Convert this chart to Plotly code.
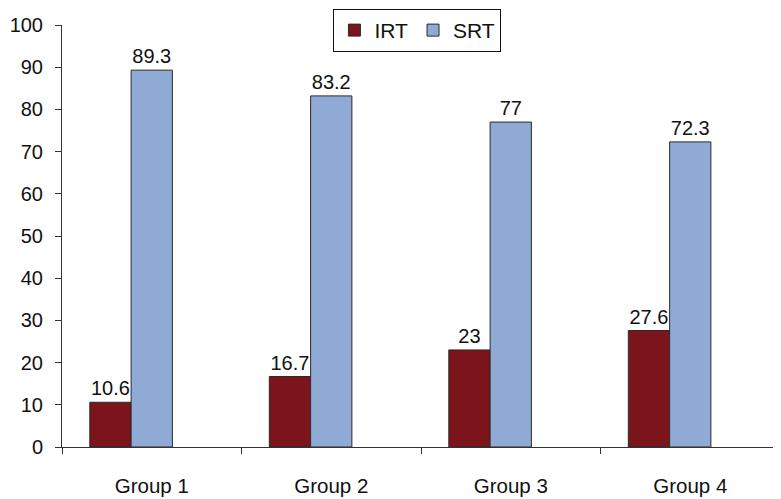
import plotly.graph_objects as go

categories = ["Group 1", "Group 2", "Group 3", "Group 4"]
irt = [10.6, 16.7, 23, 27.6]
srt = [89.3, 83.2, 77, 72.3]
y_ticks = [0, 10, 20, 30, 40, 50, 60, 70, 80, 90, 100]

FONT = "Liberation Sans, Arial, sans-serif"
fig = go.Figure()
fig.add_trace(go.Bar(
    x=categories, y=irt, name="IRT",
    marker=dict(color="#7B151B", line=dict(color="#2a2a2a", width=1)),
    width=0.23, offset=-0.345,
    text=[f"{v:g}" for v in irt], textposition="outside", cliponaxis=False,
    textfont=dict(size=20, color="#111", family=FONT),
))
fig.add_trace(go.Bar(
    x=categories, y=srt, name="SRT",
    marker=dict(color="#8FAAD4", line=dict(color="#2a2a2a", width=1)),
    width=0.23, offset=-0.115,
    text=[f"{v:g}" for v in srt], textposition="outside", cliponaxis=False,
    textfont=dict(size=20, color="#111", family=FONT),
))
# page body has an 8px margin, so the figure origin sits at (8, 8)
fig.update_layout(
    width=781, height=499,
    margin=dict(l=54, r=9, t=17, b=60, autoexpand=False),
    paper_bgcolor="white", plot_bgcolor="white",
    font=dict(family=FONT, size=20, color="#111"),
    barmode="group",
    showlegend=True,
    legend=dict(orientation="h", x=0.495, xanchor="center", y=1.038, yanchor="top",
                bordercolor="#111", borderwidth=1, bgcolor="white",
                font=dict(size=21), itemwidth=30),
    xaxis=dict(range=[-0.5, 3.5], showline=True, linecolor="#333", linewidth=1,
               ticks="outside", tickson="boundaries", ticklen=6, tickcolor="#333",
               showgrid=False, zeroline=False, ticklabelstandoff=20,
               automargin=False, tickfont=dict(size=20.5)),
    yaxis=dict(range=[0, 100], tickvals=y_ticks, showline=True, linecolor="#333",
               linewidth=1, ticks="outside", ticklen=6, tickcolor="#333",
               showgrid=False, zeroline=False, ticklabelstandoff=8,
               automargin=False, tickfont=dict(size=20)),
)
fig.write_html("out.html")
